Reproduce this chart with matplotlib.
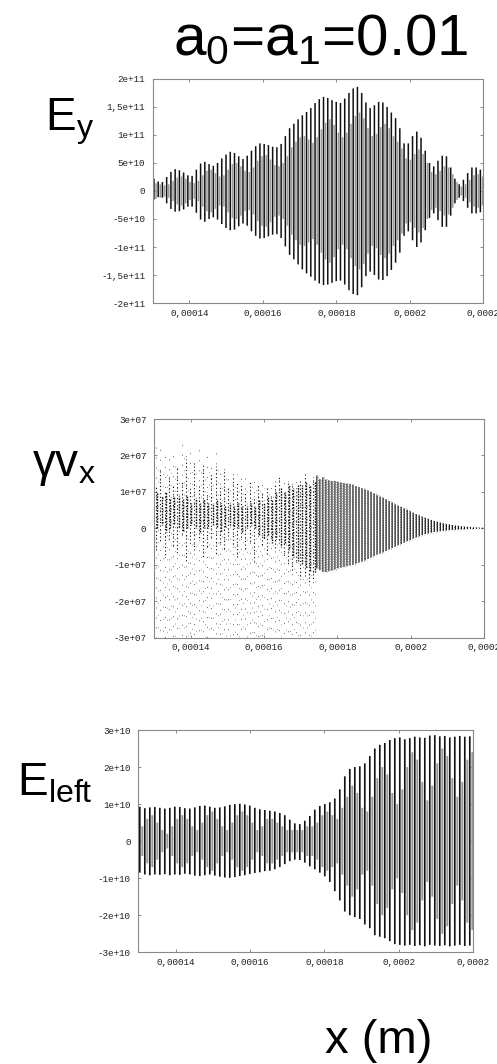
import numpy as np
import matplotlib.pyplot as plt

plt.rcParams['font.family'] = ['Liberation Sans', 'DejaVu Sans']
plt.rcParams['mathtext.fontset'] = 'custom'
plt.rcParams['mathtext.rm'] = 'Liberation Sans'
plt.rcParams['mathtext.it'] = 'Liberation Sans'
plt.rcParams['lines.scale_dashes'] = False

# common x axis (m)
x_min, x_max = 0.00013, 0.00022
x_ticks = [0.00014, 0.00016, 0.00018, 0.0002, 0.00022]
x_ticklabels = ['0,00014', '0,00016', '0,00018', '0,0002', '0,0002']

# Ey: peak values of each oscillation cycle (1e9 V/m)
ey_top = [22, 17, 16, 25, 34, 39, 37, 33, 28, 27, 38, 49, 52, 48, 45, 50, 58, 65, 70, 68,
          62, 57, 63, 72, 80, 85, 84, 82, 79, 78, 84, 98, 112, 120, 128, 135, 141, 148, 157, 164,
          168, 166, 162, 159, 157, 165, 175, 183, 186, 175, 158, 148, 153, 159, 158, 150, 140, 130, 112, 85,
          85, 98, 106, 95, 72, 50, 44, 54, 63, 62, 42, 22, 12, 20, 32, 42, 42, 38]
ey_bot = [15, 11, 12, 22, 32, 37, 36, 33, 28, 28, 39, 51, 55, 50, 47, 51, 59, 66, 70, 69,
          63, 58, 62, 72, 80, 85, 84, 81, 78, 77, 84, 99, 114, 122, 131, 140, 147, 153, 160, 165,
          168, 167, 164, 161, 160, 167, 177, 184, 186, 172, 152, 144, 150, 158, 159, 152, 141, 128, 110, 80,
          72, 88, 100, 92, 70, 48, 40, 52, 64, 64, 44, 22, 12, 18, 30, 40, 40, 38]
ey_gray = [14, 12, 10, 12, 18, 24, 26, 22, 16, 14, 18, 28, 36, 38, 32, 26, 28, 38, 48, 50,
           44, 36, 34, 42, 54, 62, 64, 56, 46, 44, 50, 62, 78, 88, 96, 98, 92, 86, 96, 110,
           122, 128, 118, 104, 96, 104, 120, 134, 140, 130, 112, 98, 102, 114, 120, 112, 98, 88, 76, 58,
           56, 66, 74, 66, 50, 34, 30, 36, 44, 42, 30, 16, 8, 12, 20, 28, 30, 26]
ey_yticks = [2e11, 1.5e11, 1e11, 5e10, 0, -5e10, -1e11, -1.5e11, -2e11]
ey_ylabels = ['2e+11', '1,5e+11', '1e+11', '5e+10', '0', '-5e+10', '-1e+11', '-1,5e+11', '-2e+11']

# gamma*vx (1e6 m/s): noisy streaks on the left, ordered oscillation on the right
vx_split = 0.000174
vx_left_top = [12, 16, 10, 14, 12, 17, 13, 19, 11, 18, 12, 18, 10, 15, 17, 12, 16, 11, 14, 13,
               12, 10, 13, 9, 12, 10, 11, 9, 12, 14, 10, 13, 12, 11, 13, 15, 12, 14]
vx_left_bot = [-6, -4, -8, -3, -5, -7, -2, -9, -4, -6, -3, -8, -5, -3, -7, -4, -6, -2, -5, -8,
               -3, -6, -4, -9, -2, -5, -7, -3, -6, -4, -8, -10, -12, -9, -14, -13, -15, -14]
vx_core_top = [10, 9, 10, 8, 9, 9, 8, 9, 7, 8, 7, 8, 7, 7, 8, 7, 6, 7, 6, 7,
               6, 6, 7, 6, 8, 7, 9, 8, 10, 11, 10, 12, 11, 12, 12, 13, 12, 13]
vx_core_bot = [0, 1, -1, 0, 1, 0, -1, 0, 1, 0, -1, 0, 0, 1, 0, -1, 0, 1, 0, 0,
               -1, 0, 1, 0, -2, -3, -2, -4, -3, -5, -4, -6, -8, -9, -10, -11, -12, -12]
vx_sparse_top = [23, 22, 21, 20, 22, 19, 25, 20, 21, 19, 22, 18, 20, 19, 21, 17, 18, 16, 17, 15,
                 16, 14, 15, 14, 13, 14, 12, 13, 14, 15, 14, 13, 14, 14, 13, 15, 14, 14]
vx_right_top = [14.5, 13.5, 14.0, 13.4, 13.2, 13.0, 13.0, 12.8, 12.6, 12.4, 12.3, 12.2, 12.0, 11.6,
                11.3, 11.0, 10.7, 10.4, 10.0, 9.6, 9.1, 8.7, 8.4, 8.0, 7.5, 7.1, 6.6, 6.2,
                5.9, 5.5, 5.1, 4.7, 4.3, 3.9, 3.6, 3.2, 2.9, 2.6, 2.3, 2.0, 1.8, 1.6,
                1.4, 1.2, 1.1, 0.9, 0.8, 0.7, 0.6, 0.5, 0.45, 0.4, 0.3, 0.25, 0.2, 0.2]
vx_right_bot = [-11.0, -11.5, -12.0, -12.0, -11.8, -11.6, -11.3, -11.0, -10.8, -10.6, -10.4, -10.2, -10.0, -9.7,
                -9.4, -9.1, -8.8, -8.4, -8.0, -7.6, -7.2, -6.9, -6.6, -6.2, -5.8, -5.4, -5.0, -4.6,
                -4.3, -3.9, -3.5, -3.2, -2.8, -2.5, -2.2, -1.9, -1.6, -1.4, -1.2, -1.0, -0.9, -0.8,
                -0.7, -0.6, -0.5, -0.45, -0.4, -0.35, -0.3, -0.3, -0.25, -0.2, -0.2, -0.15, -0.1, -0.1]
vx_yticks = [3e7, 2e7, 1e7, 0, -1e7, -2e7, -3e7]
vx_ylabels = ['3e+07', '2e+07', '1e+07', '0', '-1e+07', '-2e+07', '-3e+07']

# E_left: peak values of each cycle (1e9 V/m)
el_top = [9.3, 8.9, 9.1, 9.2, 9.0, 8.8, 9.0, 9.3, 9.2, 8.9, 8.8, 9.1,
          9.5, 9.6, 9.3, 9.0, 9.1, 9.4, 9.8, 10.0, 10.1, 9.9, 9.6, 9.0,
          8.6, 8.4, 8.2, 8.0, 7.6, 7.0, 5.8, 4.8, 4.6, 5.5, 6.8, 8.5,
          9.5, 10.0, 10.5, 11.5, 14.0, 17.5, 19.5, 20.0, 20.2, 21.0, 23.0, 25.0, 26.0, 26.5, 27.3, 27.8,
          28.0, 27.5, 27.8, 28.2, 28.0, 27.9, 28.5, 28.6, 28.3, 28.4, 28.0, 28.2, 28.4, 28.2, 28.3]
el_bot = [8.5, 9.0, 9.2, 9.0, 9.1, 8.9, 9.2, 9.0, 9.1, 8.8, 9.0, 9.3,
          9.4, 9.2, 9.0, 9.3, 9.6, 9.8, 9.9, 9.7, 9.4, 9.2, 8.9, 8.6,
          8.4, 8.1, 8.0, 7.6, 7.0, 6.2, 5.4, 5.0, 5.1, 5.8, 6.8, 7.6,
          8.5, 9.5, 11.0, 13.5, 16.0, 19.0, 20.0, 20.5, 21.0, 22.5, 23.5, 25.4, 25.8, 26.2, 27.0, 27.8,
          28.0, 28.2, 28.0, 28.3, 28.1, 28.4, 28.0, 28.2, 28.3, 28.1, 28.4, 28.2, 28.0, 28.3, 28.2]
el_gray = [4, 6, 7, 5, 3, 2, 4, 6, 7, 6, 4, 3,
           5, 7, 8, 6, 4, 3, 5, 7, 8, 7, 5, 3,
           4, 6, 6, 5, 4, 3, 3, 3, 3, 4, 4, 5,
           7, 8, 7, 6, 9, 12, 15, 13, 9, 8, 12, 17, 20, 18, 13, 10,
           14, 20, 24, 22, 16, 11, 15, 21, 25, 23, 17, 12, 16, 22, 24]
el_yticks = [3e10, 2e10, 1e10, 0, -1e10, -2e10, -3e10]
el_ylabels = ['3e+10', '2e+10', '1e+10', '0', '-1e+10', '-2e+10', '-3e+10']


def style(ax, yticks, ylabels):
    ax.set_xlim(x_min, x_max)
    ax.set_ylim(yticks[-1], yticks[0])
    ax.set_xticks(x_ticks)
    ax.set_xticklabels(x_ticklabels)
    ax.set_yticks(yticks)
    ax.set_yticklabels(ylabels)
    ax.tick_params(direction='in', length=2.5, width=0.6, color='#777777',
                   top=True, right=True, labelsize=6.7, labelcolor='#222222')
    ax.tick_params(axis='y', pad=5.5)
    ax.tick_params(axis='x', pad=4)
    for lab in ax.get_xticklabels() + ax.get_yticklabels():
        lab.set_family('Liberation Mono')
    for s in ax.spines.values():
        s.set_color('#888888')
        s.set_linewidth(0.8)


fig = plt.figure(figsize=(4.97, 10.64), dpi=100)

# --- Ey ---
ax1 = fig.add_axes([0.3072, 0.7152, 0.6653, 0.2106])
n = len(ey_top)
p = (x_max - x_min) / n
xb = x_min + (np.arange(n) + 0.3) * p
ax1.vlines(xb + 0.5 * p, -np.array(ey_gray) * 1e9, np.array(ey_gray) * 1e9, color='#999999',
           lw=1.1, snap=False)
ax1.vlines(xb, -np.array(ey_bot) * 1e9, np.array(ey_top) * 1e9, color='#111111', lw=1.1, snap=False)
style(ax1, ey_yticks, ey_ylabels)

# --- gamma vx ---
ax2 = fig.add_axes([0.3099, 0.4007, 0.664, 0.2055])
n = len(vx_left_top)
p = (vx_split - x_min) / n
xs = x_min + (np.arange(n) + 0.5) * p
for k in range(n):
    ax2.plot([xs[k], xs[k]], [-3e7, vx_sparse_top[k] * 1e6], color='#666666', lw=0.7,
             linestyle=((k * k * 1.7) % 7, (0.7, 6.5)), dash_capstyle='butt')
    ax2.plot([xs[k] + 0.5 * p] * 2, [-3e7, vx_sparse_top[k] * 0.8e6], color='#999999', lw=0.7,
             linestyle=((k * k * 2.9 + 1) % 8, (0.7, 8)), dash_capstyle='butt')
    ax2.plot([xs[k], xs[k]], [vx_left_bot[k] * 1e6, vx_left_top[k] * 1e6], color='#111111', lw=0.8,
             linestyle=((k * k * 0.9) % 2.6, (0.8, 1.8)), dash_capstyle='butt')
    ax2.plot([xs[k] + 0.3 * p] * 2, [vx_core_bot[k] * 1e6, vx_core_top[k] * 1e6], color='#111111', lw=1.0,
             linestyle=((k * k * 0.7) % 2, (1.2, 0.8)), dash_capstyle='butt')
n = len(vx_right_top)
p = (x_max - vx_split) / n
xr = vx_split + (np.arange(n) + 0.5) * p
top = np.array(vx_right_top) * 1e6
bot = np.array(vx_right_bot) * 1e6
for k in range(n):
    ax2.plot([xr[k] + 0.5 * p] * 2, [bot[k], top[k]], color='#9a9a9a', lw=0.7,
             linestyle=((k * k * 0.6) % 1.8, (0.8, 1.0)), dash_capstyle='butt')
ax2.vlines(xr, bot, top, color='#111111', lw=0.8, snap=False)
style(ax2, vx_yticks, vx_ylabels)

# --- E_left ---
ax3 = fig.add_axes([0.2783, 0.1050, 0.674, 0.2089])
n = len(el_top)
p = (x_max - x_min) / n
xb = x_min + (np.arange(n) + 0.3) * p
ax3.vlines(xb + 0.5 * p, -np.array(el_gray) * 1e9, np.array(el_gray) * 1e9, color='#999999',
           lw=1.4, snap=False)
ax3.vlines(xb, -np.array(el_bot) * 1e9, np.array(el_top) * 1e9, color='#111111', lw=1.2, snap=False)
style(ax3, el_yticks, el_ylabels)

# big labels
fig.text(0.646, 0.9483, 'a$_{0}$=a$_{1}$=0.01', ha='center', va='baseline', fontsize=42)
fig.text(0.0905, 0.8778, 'E$_{y}$', ha='left', va='baseline', fontsize=33)
fig.text(0.0644, 0.5526, '\u03b3v$_{x}$', ha='left', va='baseline', fontsize=33)
fig.text(0.0336, 0.2528, 'E$_{left}$', ha='left', va='baseline', fontsize=33)
fig.text(0.654, 0.0103, 'x (m)', ha='left', va='baseline', fontsize=34)

fig.savefig('out.png', dpi=100)
